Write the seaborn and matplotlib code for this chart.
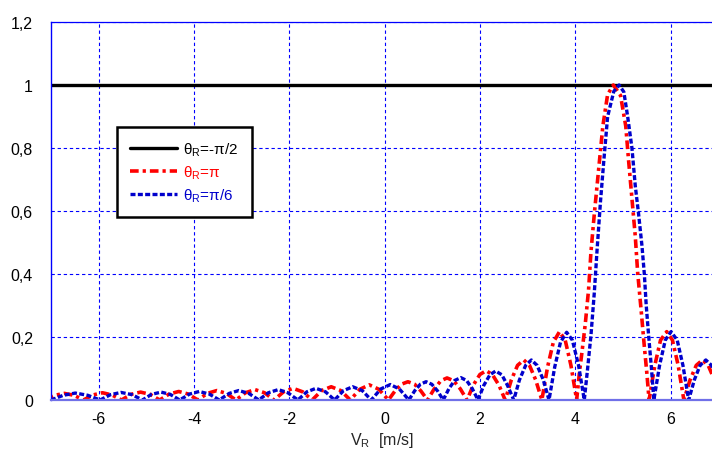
import matplotlib
matplotlib.use("Agg")
import matplotlib.pyplot as plt
import seaborn as sns
import pandas as pd

# theta_R = -pi/2 : flat response
x_black = [-7.0, 7.0]
y_black = [1.0, 1.0]

# theta_R = pi
x_red = [
    -7.12, -6.92, -6.72, -6.52,
    -6.32, -6.12, -5.92, -5.72,
    -5.52, -5.32, -5.12, -4.92,
    -4.72, -4.52, -4.32, -4.12,
    -3.92, -3.72, -3.52, -3.32,
    -3.12, -2.92, -2.72, -2.52,
    -2.32, -2.12, -1.92, -1.72,
    -1.52, -1.32, -1.12, -0.92,
    -0.72, -0.52, -0.32, -0.12,
    0.08, 0.22, 0.35, 0.49, 0.63, 0.76,
    0.90, 1.04, 1.18, 1.31, 1.45, 1.59,
    1.73, 1.86, 2.00, 2.13, 2.26, 2.40,
    2.53, 2.66, 2.79, 2.92, 3.04, 3.17,
    3.30, 3.42, 3.54, 3.67, 3.79, 3.91,
    4.03, 4.09, 4.14, 4.21, 4.28, 4.33, 4.40, 4.49, 4.58, 4.68,
    4.80, 4.95, 5.06, 5.12, 5.19, 5.26, 5.31, 5.38, 5.45, 5.50,
    5.55, 5.67, 5.79, 5.92, 6.04, 6.16,
    6.28, 6.41, 6.54, 6.67, 6.79, 6.92, 7.05,
]
y_red = [
    0.0, 0.015, 0.021, 0.015,
    0.0, 0.016, 0.023, 0.016,
    0.0, 0.018, 0.025, 0.018,
    0.0, 0.019, 0.027, 0.019,
    0.0, 0.021, 0.030, 0.021,
    0.0, 0.023, 0.033, 0.023,
    0.0, 0.026, 0.037, 0.026,
    0.0, 0.030, 0.042, 0.030,
    0.0, 0.034, 0.048, 0.034,
    0.0, 0.029, 0.050, 0.058, 0.050, 0.029,
    0.0, 0.035, 0.061, 0.070, 0.061, 0.035,
    0.0, 0.047, 0.081, 0.093, 0.081, 0.047,
    0.0, 0.064, 0.110, 0.127, 0.110, 0.064,
    0.0, 0.105, 0.183, 0.217, 0.190, 0.110,
    0.0, 0.09, 0.15, 0.24, 0.35, 0.47, 0.59, 0.73, 0.87, 0.97,
    1.0, 0.967, 0.87, 0.76, 0.64, 0.52, 0.405, 0.29, 0.17, 0.09,
    0.0, 0.110, 0.190, 0.217, 0.190, 0.110,
    0.0, 0.064, 0.110, 0.127, 0.110, 0.064, 0.0,
]

# theta_R = pi/6
x_blue = [
    -7.00, -6.74, -6.49, -6.23,
    -5.97, -5.75, -5.53, -5.30,
    -5.08, -4.89, -4.69, -4.50,
    -4.30, -4.09, -3.89, -3.68,
    -3.47, -3.26, -3.06, -2.85,
    -2.64, -2.44, -2.23, -2.03,
    -1.82, -1.63, -1.44, -1.24,
    -1.05, -0.86, -0.67, -0.47,
    -0.28, -0.08, 0.12, 0.31,
    0.51, 0.63, 0.75, 0.87, 0.99, 1.11,
    1.23, 1.35, 1.47, 1.60, 1.72, 1.84,
    1.96, 2.08, 2.21, 2.33, 2.46, 2.58,
    2.71, 2.83, 2.96, 3.08, 3.20, 3.33,
    3.45, 3.57, 3.69, 3.82, 3.94, 4.07,
    4.19, 4.26, 4.33, 4.40, 4.46, 4.53, 4.60, 4.68, 4.81,
    4.92, 5.02, 5.10, 5.19, 5.26, 5.33, 5.40, 5.45, 5.49, 5.54, 5.60,
    5.65, 5.77, 5.89, 6.01, 6.14, 6.26,
    6.38, 6.50, 6.62, 6.74, 6.86, 6.98, 7.10,
]
y_blue = [
    0.0, 0.015, 0.022, 0.015,
    0.0, 0.017, 0.024, 0.017,
    0.0, 0.018, 0.025, 0.018,
    0.0, 0.019, 0.027, 0.019,
    0.0, 0.021, 0.030, 0.021,
    0.0, 0.023, 0.033, 0.023,
    0.0, 0.026, 0.037, 0.026,
    0.0, 0.030, 0.042, 0.030,
    0.0, 0.035, 0.049, 0.035,
    0.0, 0.029, 0.050, 0.058, 0.050, 0.029,
    0.0, 0.036, 0.062, 0.071, 0.062, 0.036,
    0.0, 0.046, 0.080, 0.092, 0.080, 0.046,
    0.0, 0.064, 0.110, 0.127, 0.110, 0.064,
    0.0, 0.105, 0.183, 0.215, 0.190, 0.110,
    0.0, 0.10, 0.205, 0.34, 0.48, 0.63, 0.76, 0.90, 0.98,
    1.0, 0.978, 0.90, 0.80, 0.68, 0.59, 0.49, 0.40, 0.30, 0.205, 0.10,
    0.0, 0.110, 0.190, 0.217, 0.190, 0.110,
    0.0, 0.064, 0.110, 0.127, 0.110, 0.064, 0.0,
]

x_ticks = [-6, -4, -2, 0, 2, 4, 6]
y_ticks = [0, 0.2, 0.4, 0.6, 0.8, 1.0, 1.2]
y_tick_labels = ["0", "0,2", "0,4", "0,6", "0,8", "1", "1,2"]

labels = ["θ$_\\mathregular{R}$=-π/2", "θ$_\\mathregular{R}$=π", "θ$_\\mathregular{R}$=π/6"]
colors = ["#000000", "#ff0000", "#0000cc"]

sns.set_style("white")
plt.rcParams["font.family"] = ["Liberation Sans", "DejaVu Sans"]
plt.rcParams["mathtext.fontset"] = "custom"
plt.rcParams["mathtext.rm"] = "Liberation Sans"

fig = plt.figure(figsize=(7.12, 4.52), dpi=100)
ax = fig.add_axes([51 / 712, 51 / 452, 661 / 712, 378 / 452])

df_black = pd.DataFrame({"x": x_black, "y": y_black})
df_red = pd.DataFrame({"x": x_red, "y": y_red})
df_blue = pd.DataFrame({"x": x_blue, "y": y_blue})

sns.lineplot(data=df_black, x="x", y="y", ax=ax, color=colors[0], lw=2.4,
             label=labels[0], sort=False)
sns.lineplot(data=df_red, x="x", y="y", ax=ax, color=colors[1], lw=2.6,
             linestyle=(0, (2.4, 1.1, 0.9, 1.1)), label=labels[1], sort=False)
sns.lineplot(data=df_blue, x="x", y="y", ax=ax, color=colors[2], lw=2.4,
             linestyle=(0, (1.5, 0.7)), label=labels[2], sort=False)

ax.set_xlim(-7, 6.87)
ax.set_ylim(0, 1.2)
ax.set_xticks(x_ticks)
ax.set_xticklabels([str(t) for t in x_ticks])
ax.set_yticks(y_ticks)
ax.set_yticklabels(y_tick_labels)
ax.tick_params(axis="both", length=0, labelsize=11.5, colors="black")
ax.tick_params(axis="y", pad=13)
ax.tick_params(axis="x", pad=8)

ax.grid(True, color="#0000ff", lw=0.8, linestyle=(0, (3, 2.5)))
ax.set_axisbelow(True)

ax.spines["right"].set_visible(False)
ax.spines["left"].set_color("#0000ff")
ax.spines["left"].set_linewidth(1.0)
ax.spines["top"].set_color("#0000ff")
ax.spines["top"].set_linewidth(0.9)
ax.spines["top"].set_linestyle((0, (3, 1)))
ax.spines["bottom"].set_color("#7070e8")
ax.spines["bottom"].set_linewidth(1.6)

ax.set_xlabel("V$_\\mathregular{R}$  [m/s]", fontsize=11.5, labelpad=3)
ax.set_ylabel("")

leg = ax.legend(loc="upper left", bbox_to_anchor=(0.0998, 0.722), borderaxespad=0,
                fancybox=False, frameon=True, fontsize=11, handlelength=3.1,
                handletextpad=0.4, labelspacing=0.35, borderpad=0.85)
leg.get_frame().set_edgecolor("black")
leg.get_frame().set_linewidth(1.8)
leg.get_frame().set_alpha(1)
for txt, c in zip(leg.get_texts(), colors):
    txt.set_color(c)

fig.savefig("out.png", dpi=100)
